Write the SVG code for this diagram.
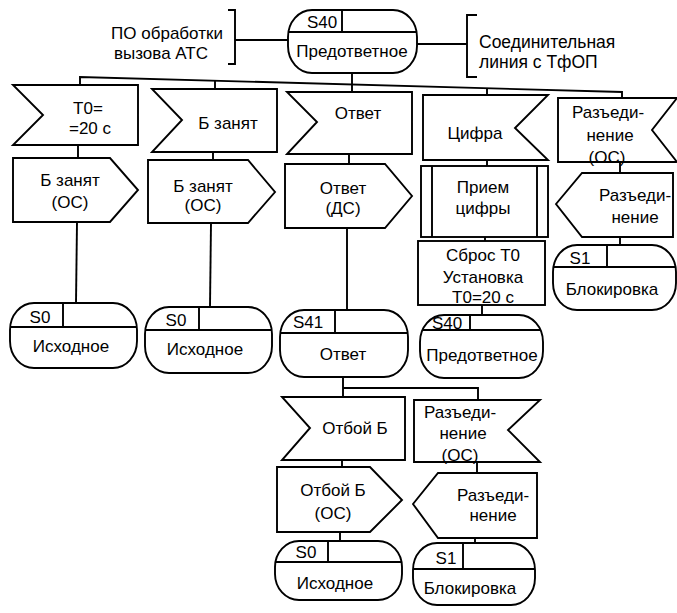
<svg xmlns="http://www.w3.org/2000/svg" width="677" height="613" viewBox="0 0 677 613">
<style>
.s{fill:#fff;stroke:#000;stroke-width:1.9;stroke-linejoin:miter}
.l{fill:none;stroke:#000;stroke-width:1.9}
.t{font-family:"Liberation Sans",Arial,sans-serif;font-size:17px;fill:#000;text-anchor:middle}
.ts{font-family:"Liberation Sans",Arial,sans-serif;font-size:17.5px;fill:#000;text-anchor:start}
</style>
<rect width="677" height="613" fill="#fff"/>
<g id="connectors">
<line class="l" x1="235" y1="40" x2="288" y2="40"/>
<line class="l" x1="417" y1="44" x2="467" y2="44"/>
<line class="l" x1="352" y1="73" x2="352" y2="92"/>
<polyline class="l" points="80,85 80,77 622,92 622,98"/>
<line class="l" x1="215" y1="80.7" x2="215" y2="89"/>
<line class="l" x1="487" y1="88.3" x2="487" y2="95"/>
<line class="l" x1="78" y1="145" x2="78" y2="158"/>
<line class="l" x1="77" y1="222" x2="76" y2="303"/>
<line class="l" x1="213" y1="152" x2="213" y2="160"/>
<line class="l" x1="211" y1="223" x2="210" y2="307"/>
<line class="l" x1="349" y1="154" x2="349" y2="164"/>
<line class="l" x1="347" y1="228" x2="347" y2="310"/>
<polyline class="l" points="343,377 343,397"/>
<polyline class="l" points="343,388 478,388 478,400"/>
<line class="l" x1="342" y1="460" x2="342" y2="467"/>
<line class="l" x1="340" y1="532" x2="340" y2="541"/>
<line class="l" x1="477" y1="462" x2="477" y2="473"/>
<line class="l" x1="475" y1="538" x2="475" y2="543"/>
<line class="l" x1="487" y1="160" x2="487" y2="166"/>
<line class="l" x1="485" y1="237" x2="485" y2="241"/>
<line class="l" x1="482" y1="305" x2="482" y2="315"/>
<line class="l" x1="620" y1="162" x2="620" y2="173"/>
<line class="l" x1="620" y1="237" x2="620" y2="245"/>
</g>
<g id="n_po">
<path class="l" d="M228,10 H235 V64 H228"/>
<text class="t" x="167" y="39">ПО обработки</text>
<text class="t" x="161" y="59">вызова АТС</text>
</g>
<g id="n_sl">
<path class="l" d="M477,15 H467 V77 H477"/>
<text class="ts" x="479" y="48">Соединительная</text>
<text class="ts" x="479" y="68">линия с ТфОП</text>
</g>
<g id="s40_top">
<rect class="s" x="288" y="10" width="129" height="63" rx="24" ry="27"/>
<path class="l" d="M288.5,32 H416.5 M342,10 V32"/>
<text class="t" x="322" y="28">S40</text>
<text class="t" x="352" y="57">Предответное</text>
</g>
<g id="c1_in">
<path class="s" d="M13,85 H138 V145 H13 L43,115 Z"/>
<text class="t" x="88" y="114">Т0=</text>
<text class="t" x="90" y="134">=20 с</text>
</g>
<g id="c1_out">
<path class="s" d="M13,158 H110 L138,190 L110,222 H13 Z"/>
<text class="t" x="70" y="186">Б занят</text>
<text class="t" x="70" y="208">(ОС)</text>
</g>
<g id="c1_s0">
<rect class="s" x="10" y="303" width="127" height="65" rx="24" ry="27"/>
<path class="l" d="M10,327 H137 M63,303 V327"/>
<text class="t" x="40" y="323">S0</text>
<text class="t" x="71" y="352">Исходное</text>
</g>
<g id="c2_in">
<path class="s" d="M152,89 H277 V152 H152 L182,120 Z"/>
<text class="t" x="228" y="129">Б занят</text>
</g>
<g id="c2_out">
<path class="s" d="M148,160 H248 L275,192 L248,223 H148 Z"/>
<text class="t" x="203" y="192">Б занят</text>
<text class="t" x="203" y="211">(ОС)</text>
</g>
<g id="c2_s0">
<rect class="s" x="145" y="307" width="127" height="66" rx="24" ry="27"/>
<path class="l" d="M145,330 H272 M199,307 V330"/>
<text class="t" x="176" y="326">S0</text>
<text class="t" x="205" y="355">Исходное</text>
</g>
<g id="c3_in">
<path class="s" d="M287,92 H412 V154 H287 L317,122 Z"/>
<text class="t" x="358" y="119">Ответ</text>
</g>
<g id="c3_out">
<path class="s" d="M285,164 H385 L412,196 L385,228 H285 Z"/>
<text class="t" x="343" y="194">Ответ</text>
<text class="t" x="343" y="214">(ДС)</text>
</g>
<g id="c3_s41">
<rect class="s" x="280" y="310" width="128" height="67" rx="24" ry="27"/>
<path class="l" d="M280,333 H408 M335,310 V333"/>
<text class="t" x="308" y="328">S41</text>
<text class="t" x="343" y="360">Ответ</text>
</g>
<g id="c3a_in">
<path class="s" d="M282,397 H405 V460 H282 L310,428 Z"/>
<text class="t" x="355" y="434">Отбой Б</text>
</g>
<g id="c3a_out">
<path class="s" d="M277,467 H370 L402,500 L370,532 H277 Z"/>
<text class="t" x="333" y="496">Отбой Б</text>
<text class="t" x="333" y="519">(ОС)</text>
</g>
<g id="c3a_s0">
<rect class="s" x="275" y="541" width="127" height="59" rx="24" ry="26"/>
<path class="l" d="M275.5,562 H401.5 M328,541 V562"/>
<text class="t" x="306" y="558">S0</text>
<text class="t" x="335" y="589">Исходное</text>
</g>
<g id="c3b_in">
<path class="s" d="M414,400 H540 L508,430 L540,462 H414 Z"/>
<text class="t" x="460" y="418">Разъеди-</text>
<text class="t" x="463" y="439">нение</text>
<text class="t" x="460" y="461">(ОС)</text>
</g>
<g id="c3b_out">
<path class="s" d="M413,504 L438,473 H537 V538 H438 Z"/>
<text class="t" x="493" y="501">Разъеди-</text>
<text class="t" x="493" y="521">нение</text>
</g>
<g id="c3b_s1">
<rect class="s" x="413" y="543" width="122" height="62" rx="24" ry="27"/>
<path class="l" d="M413,569 H535 M463,543 V569"/>
<text class="t" x="446" y="564">S1</text>
<text class="t" x="470" y="594">Блокировка</text>
</g>
<g id="c4_in">
<path class="s" d="M423,95 H548 L515,128 L548,160 H423 Z"/>
<text class="t" x="475" y="139">Цифра</text>
</g>
<g id="c4_proc">
<rect class="s" x="421" y="166" width="127" height="71"/>
<path class="l" d="M432,166 V237 M537,166 V237"/>
<text class="t" x="483" y="193">Прием</text>
<text class="t" x="483" y="214">цифры</text>
</g>
<g id="c4_task">
<rect class="s" x="418" y="241" width="127" height="64"/>
<text class="t" x="483" y="261">Сброс Т0</text>
<text class="t" x="483" y="283">Установка</text>
<text class="t" x="483" y="303">Т0=20 с</text>
</g>
<g id="c4_s40">
<rect class="s" x="420" y="315" width="123" height="63" rx="24" ry="27"/>
<path class="l" d="M422.5,330 H540.5 M470,315 V330"/>
<text class="t" x="447" y="329">S40</text>
<text class="t" x="482" y="361">Предответное</text>
</g>
<g id="c5_in">
<path class="s" d="M558,98 H677 L652,130 L677,162 H558 Z"/>
<text class="t" x="608" y="118">Разъеди-</text>
<text class="t" x="610" y="141">нение</text>
<text class="t" x="607" y="163">(ОС)</text>
</g>
<g id="c5_out">
<path class="s" d="M556,204 L582,173 H673 V237 H582 Z"/>
<text class="t" x="635" y="201">Разъеди-</text>
<text class="t" x="635" y="223">нение</text>
</g>
<g id="c5_s1">
<rect class="s" x="553" y="245" width="123" height="65" rx="24" ry="27"/>
<path class="l" d="M553.5,267 H675.5 M607,245 V267"/>
<text class="t" x="580" y="264">S1</text>
<text class="t" x="612" y="295">Блокировка</text>
</g>
</svg>
